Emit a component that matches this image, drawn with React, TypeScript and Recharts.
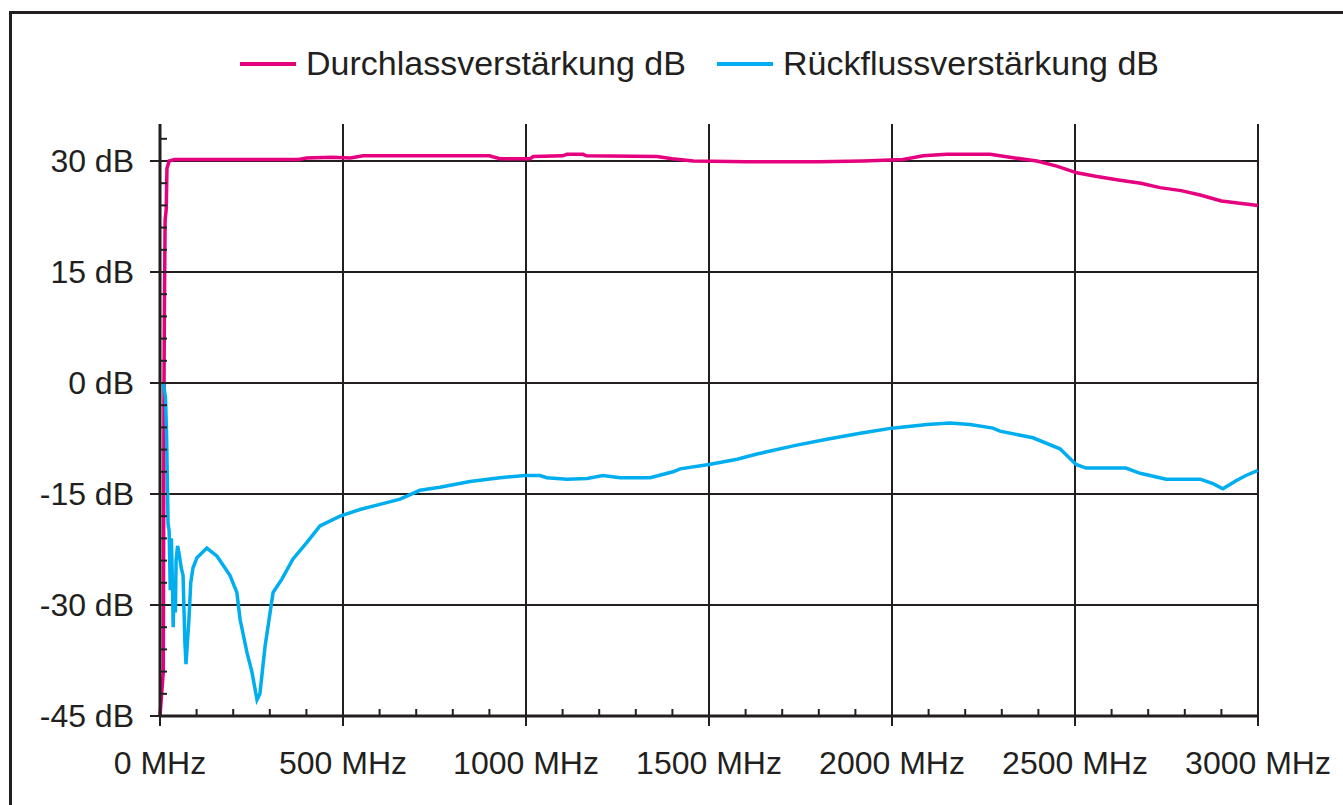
import { CartesianGrid, Line, LineChart, XAxis, YAxis } from "recharts";

// Durchlassverstärkung (forward gain), MHz / dB
const durchlassMhz = [0, 9, 10, 11, 12, 14, 17, 19, 25, 40, 380, 400, 470, 520, 555, 900, 929, 1011, 1020, 1100, 1112, 1156, 1165, 1358, 1400, 1457, 1604, 1800, 1921, 2030, 2085, 2150, 2268, 2322, 2396, 2450, 2505, 2560, 2623, 2680, 2732, 2790, 2842, 2900, 2950, 3000];
const durchlassDb = [-45, -39, -20, 0, 10, 22, 23.5, 29, 30, 30.2, 30.2, 30.4, 30.5, 30.4, 30.7, 30.7, 30.3, 30.3, 30.6, 30.7, 30.9, 30.9, 30.7, 30.6, 30.3, 30.0, 29.9, 29.9, 30.0, 30.2, 30.7, 30.9, 30.9, 30.5, 30.0, 29.3, 28.4, 27.9, 27.4, 27.0, 26.4, 26.0, 25.4, 24.6, 24.3, 24.0];

// Rückflussverstärkung (return loss), MHz / dB
const rueckflussMhz = [9, 15, 18, 22, 25, 28, 31, 34, 36, 39, 42, 44, 48, 52, 58, 63, 68, 71, 75, 79, 84, 90, 101, 128, 156, 191, 210, 219, 238, 251, 265, 273, 287, 309, 333, 363, 402, 437, 492, 546, 601, 656, 710, 765, 847, 929, 997, 1038, 1057, 1112, 1167, 1210, 1257, 1339, 1402, 1421, 1500, 1577, 1631, 1730, 1822, 1913, 2000, 2096, 2158, 2213, 2276, 2295, 2385, 2459, 2503, 2530, 2639, 2678, 2749, 2842, 2877, 2904, 2940, 2967, 3000];
const rueckflussDb = [0, -2, -7, -19, -20, -28, -21, -27, -33, -27, -31, -24, -22, -23, -25, -26, -35, -38, -35, -32, -27, -25, -23.6, -22.3, -23.4, -26, -28.3, -32, -36.5, -39, -42.8, -42, -35.6, -28.3, -26.5, -23.8, -21.5, -19.3, -18, -17.1, -16.4, -15.7, -14.5, -14.1, -13.3, -12.8, -12.5, -12.5, -12.8, -13, -12.9, -12.5, -12.8, -12.8, -12, -11.6, -11, -10.3, -9.6, -8.5, -7.6, -6.8, -6.1, -5.6, -5.4, -5.6, -6.1, -6.5, -7.4, -8.9, -11, -11.5, -11.5, -12.2, -13, -13, -13.6, -14.3, -13.2, -12.5, -11.8];

const freqTicks = [0, 500, 1000, 1500, 2000, 2500, 3000];
const freqMinorTicks = [0, 100, 200, 300, 400, 500, 600, 700, 800, 900, 1000, 1100, 1200, 1300, 1400, 1500, 1600, 1700, 1800, 1900, 2000, 2100, 2200, 2300, 2400, 2500, 2600, 2700, 2800, 2900, 3000];
const dbTicks = [-45, -30, -15, 0, 15, 30];
const dbMinorTicks = [-45, -42, -39, -36, -33, -30, -27, -24, -21, -18, -15, -12, -9, -6, -3, 0, 3, 6, 9, 12, 15, 18, 21, 24, 27, 30, 33];

const PINK = "#e5007e";
const BLUE = "#00aeef";
const INK = "#231f20";
const FONT = "'Liberation Sans', Arial, sans-serif";

const durchlass = durchlassMhz.map((mhz, i) => ({ mhz, db: durchlassDb[i] }));
const rueckfluss = rueckflussMhz.map((mhz, i) => ({ mhz, db: rueckflussDb[i] }));

// minor ticks point into the plot, major ticks also poke out and carry the label
function FreqTick({ x, y, payload }: any) {
  const major = freqTicks.includes(payload.value);
  return (
    <g>
      <line x1={x} x2={x} y1={y - 7} y2={major ? y + 10 : y} stroke={INK} strokeWidth={2} />
      {major && (
        <text x={x} y={y + 35} dy="0.71em" textAnchor="middle" fill={INK} fontSize={32} fontFamily={FONT}>
          {`${payload.value} MHz`}
        </text>
      )}
    </g>
  );
}

function DbTick({ x, y, payload }: any) {
  const major = dbTicks.includes(payload.value);
  return (
    <g>
      <line x1={major ? x - 10 : x} x2={x + 7} y1={y} y2={y} stroke={INK} strokeWidth={2} />
      {major && (
        <text x={x - 26} y={y} dy="0.355em" textAnchor="end" fill={INK} fontSize={32} fontFamily={FONT}>
          {`${payload.value} dB`}
        </text>
      )}
    </g>
  );
}

function LegendItem({ color, label, left }: { color: string; label: string; left: number }) {
  return (
    <div style={{ position: "absolute", left, top: 44, display: "flex", alignItems: "center", whiteSpace: "nowrap" }}>
      <span style={{ display: "inline-block", width: 56, height: 4, background: color, marginRight: 10 }} />
      <span style={{ fontSize: 34, color: INK, fontFamily: FONT }}>{label}</span>
    </div>
  );
}

export default function App() {
  return (
    <div style={{ position: "fixed", left: 0, top: 0, width: 1343, height: 805, overflow: "hidden", background: "#fff" }}>
      <div style={{ position: "absolute", left: 9, top: 11, width: 1400, height: 900, border: `3px solid ${INK}` }} />
      <LineChart width={1343} height={805} margin={{ top: 124, right: 85, bottom: 49, left: 10 }} style={{ position: "absolute", left: 0, top: 0 }}>
        <XAxis type="number" dataKey="mhz" domain={[0, 3000]} ticks={freqMinorTicks} interval={0} height={40} tick={<FreqTick />} tickSize={0} tickMargin={0} tickLine={false} axisLine={{ stroke: INK, strokeWidth: 3 }} />
        <YAxis type="number" domain={[-45, 35]} ticks={dbMinorTicks} interval={0} width={150} tick={<DbTick />} tickSize={0} tickMargin={0} tickLine={false} axisLine={{ stroke: INK, strokeWidth: 3 }} />
        <CartesianGrid stroke={INK} strokeWidth={2} horizontalValues={dbTicks} verticalValues={freqTicks} />
        <Line data={durchlass} dataKey="db" type="linear" stroke={PINK} strokeWidth={3.5} dot={false} isAnimationActive={false} />
        <Line data={rueckfluss} dataKey="db" type="linear" stroke={BLUE} strokeWidth={3.5} dot={false} isAnimationActive={false} />
      </LineChart>
      <LegendItem color={PINK} label="Durchlassverstärkung dB" left={240} />
      <LegendItem color={BLUE} label="Rückflussverstärkung dB" left={717} />
    </div>
  );
}
